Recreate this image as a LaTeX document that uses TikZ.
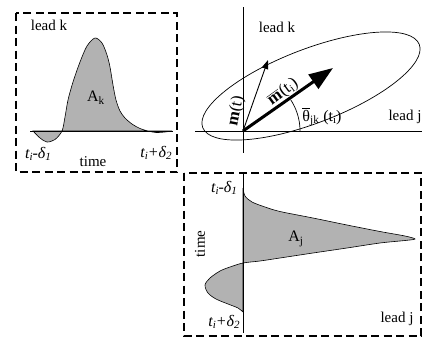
\documentclass[tikz,border=0pt]{standalone}
\usepackage{fontspec}
\setmainfont{Liberation Serif}
\usetikzlibrary{arrows.meta}
\newcommand{\lowsub}[1]{\raisebox{-0.3ex}{\fontsize{11}{11}\selectfont #1}}
\begin{document}
\begin{tikzpicture}[x=1pt,y=-1pt,
  box/.style={draw, line width=1.1pt, dash pattern=on 8pt off 4.5pt},
  lbl/.style={inner sep=0pt, font=\fontsize{15}{17}\selectfont},
  big/.style={inner sep=0pt, font=\fontsize{17}{19}\selectfont},
  tlbl/.style={inner sep=0pt, font=\fontsize{16}{18}\selectfont\itshape},
  fillc/.style={fill=black!30, draw=black, line width=0.6pt},
  axis/.style={line width=0.8pt}]
\useasboundingbox (0,0) rectangle (424,341);
% ---------- left box ----------
\draw[box] (16,13) rectangle (177,172);
\path[fillc] plot[smooth] coordinates {(33,131) (40,138) (47,142) (55,139.5) (62,131) (65,117) (68,100) (73,82) (80,62) (87,46) (95,38) (102,43) (107,55) (110,67) (113,85) (116,100) (120,111) (125,118) (132,124) (140,128.5) (148,131) (156,132.5) (165,132) (172,131)} -- cycle;
\coordinate (bl1) at (30,131);
\coordinate (bl2) at (173,131);
\draw[axis] (bl1) -- (bl2);
\node[lbl] (leadk1) at (49,25) {lead k};
\node[inner sep=0pt, font=\fontsize{16}{18}\selectfont] (Ak) at (96,98) {A\textsubscript{k}};
\node[tlbl] (t1a) at (38,154) {t\lowsub{i}-δ\lowsub{1}};
\node[lbl] (time1) at (93,162) {time};
\node[tlbl] (t2a) at (156,153) {t\lowsub{i}+δ\lowsub{2}};
% ---------- top right ----------
\coordinate (O) at (243,131);
\coordinate (vt) at (243,7);
\coordinate (vb) at (243,153);
\coordinate (hl) at (195,131);
\coordinate (hr) at (422,131);
\draw[axis] (vt) -- (vb);
\draw[axis] (hl) -- (hr);
\draw[line width=0.7pt, rotate around={21:(311,86)}] (311,86) ellipse [x radius=116, y radius=37];
\coordinate (mt) at (268,60);
\coordinate (mbt) at (333,68);
\draw[line width=0.9pt, -{Triangle[length=9pt, width=6.5pt]}] (O) -- (mt);
\draw[line width=3pt, -{Triangle[length=24pt, width=17pt]}] (O) -- (mbt);
\draw[line width=0.7pt] plot[domain=0:33, samples=25, smooth] ({243+57*cos(\x)},{131-57*sin(\x)});
\node[big, rotate=79] (mlab) at (236,111) {\textbf{m}(t)};
\node[big, rotate=36] (mbar) at (283,92) {$\overline{\hbox{\textbf{m}}}$(t\lowsub{i})};
\node[inner sep=0pt, font=\fontsize{16}{18}\selectfont] (theta) at (322,117) {$\overline{\hbox{θ}}$\textsubscript{jk} (t\lowsub{i})};
\node[lbl] (leadk2) at (277,27) {lead k};
\node[lbl] (leadj1) at (405,117) {lead j};
% ---------- bottom box ----------
\draw[box] (184,173) rectangle (421,336);
\path[fillc] plot[smooth] coordinates {(243,188) (245,196) (252,202) (265,207) (280,211.5) (313,218) (347,225) (380,231.5) (405,236) (415,239) (405,240.5) (380,243) (347,248) (313,253) (280,258) (260,261) (243,263) (230,267) (220,271) (210,278) (205,285) (208,293) (216,299) (228,304) (238,308) (243,312)} -- cycle;
\coordinate (at) at (243,173);
\coordinate (ab) at (243,333);
\draw[axis] (at) -- (ab);
\node[tlbl] (t1b) at (224,188) {t\lowsub{i}-δ\lowsub{1}};
\node[inner sep=0pt, font=\fontsize{16}{18}\selectfont] (Aj) at (296,239) {A\textsubscript{j}};
\node[lbl, rotate=90] (time2) at (200,244) {time};
\node[tlbl] (t2b) at (224,322) {t\lowsub{i}+δ\lowsub{2}};
\node[lbl] (leadj2) at (397,319) {lead j};
\end{tikzpicture}
\end{document}
